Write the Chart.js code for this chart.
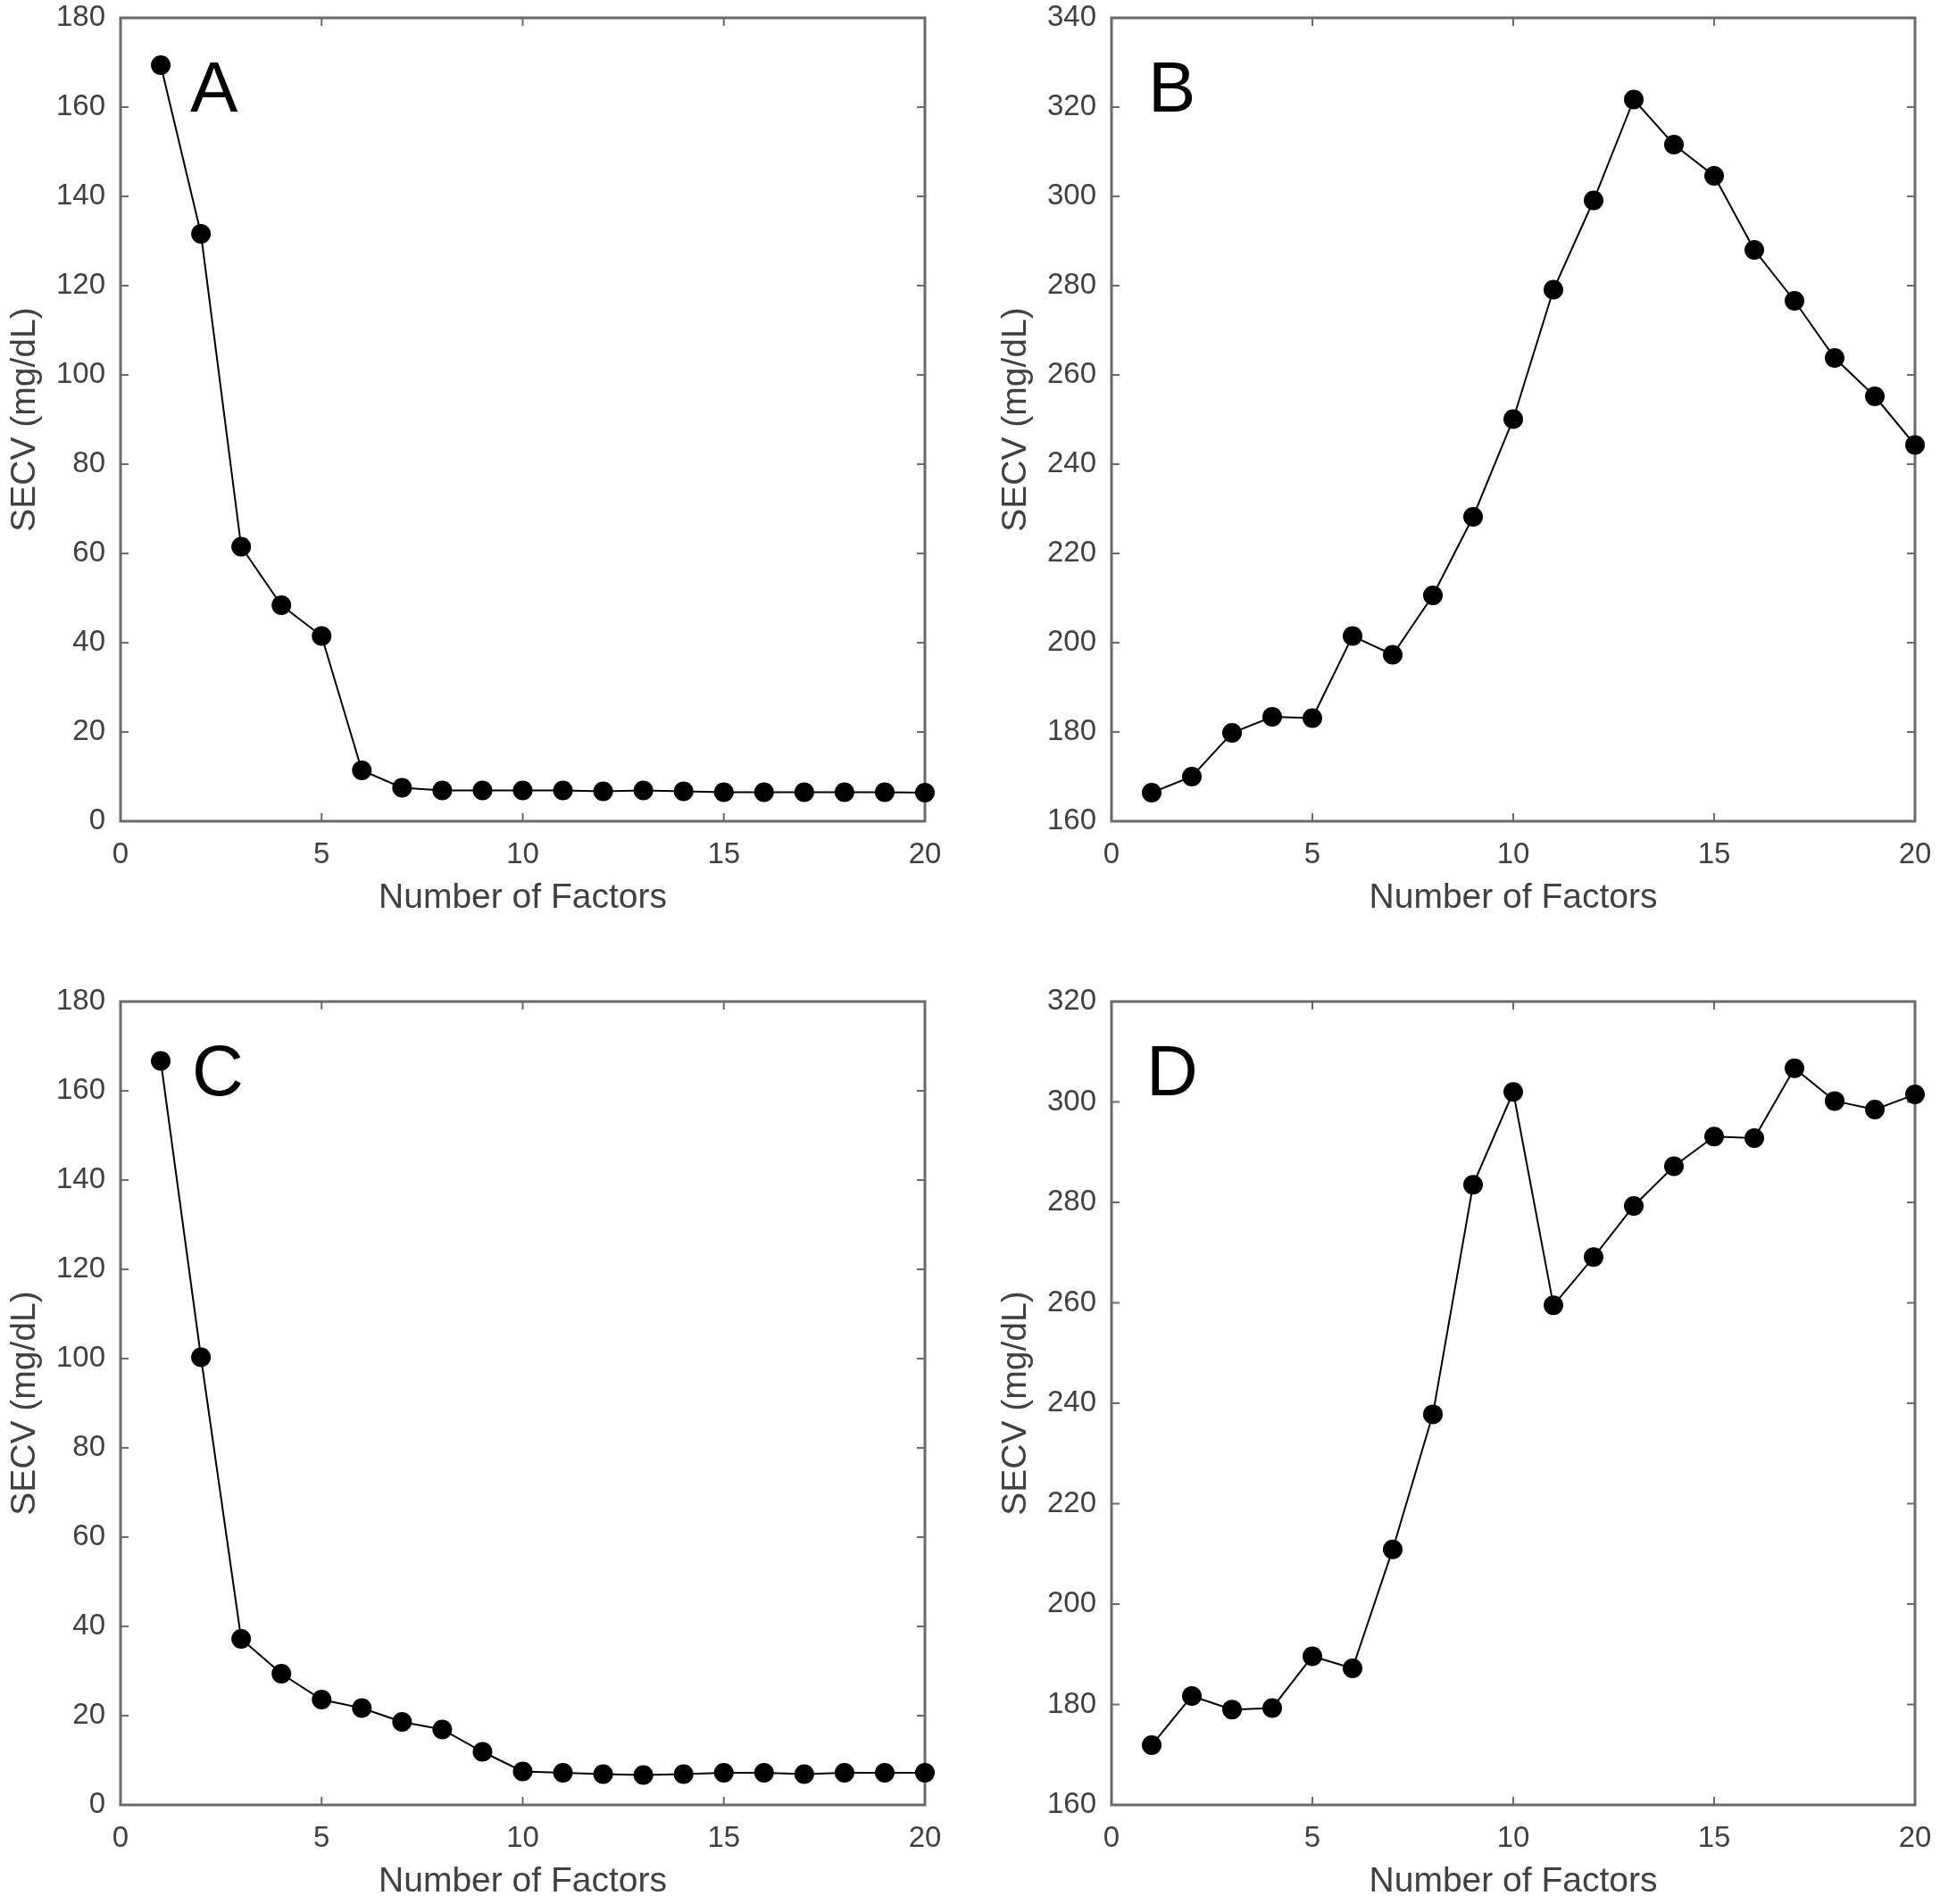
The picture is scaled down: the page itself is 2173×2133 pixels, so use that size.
<!DOCTYPE html>
<html>
<head>
<meta charset="utf-8">
<script src="https://cdn.jsdelivr.net/npm/chart.js@4.4.1/dist/chart.umd.min.js"></script>
<style>
    html, body { margin: 0; padding: 0; background: #fff; overflow: hidden; }
    canvas { position: absolute; }
</style>
</head>
<body>
<canvas id="panelA" width="1090" height="1031" style="left:0px;top:0px"></canvas>
<canvas id="panelB" width="1063" height="1031" style="left:1110px;top:0px"></canvas>
<canvas id="panelC" width="1090" height="1031" style="left:0px;top:1102px"></canvas>
<canvas id="panelD" width="1063" height="1031" style="left:1110px;top:1102px"></canvas>
<script>
// number of factors (x) and SECV values (mg/dL)
const factors = [1, 2, 3, 4, 5, 6, 7, 8, 9, 10, 11, 12, 13, 14, 15, 16, 17, 18, 19, 20];
const secvA = [169.4, 131.6, 61.5, 48.4, 41.5, 11.4, 7.5, 6.9, 6.9, 6.9, 6.9, 6.7, 6.9, 6.7, 6.5, 6.5, 6.5, 6.5, 6.5, 6.4];
const secvB = [166.4, 170.0, 179.8, 183.4, 183.1, 201.5, 197.3, 210.6, 228.2, 250.1, 279.1, 299.1, 321.7, 311.6, 304.6, 288.0, 276.6, 263.8, 255.2, 244.3];
const secvC = [166.7, 100.3, 37.2, 29.4, 23.6, 21.7, 18.6, 16.9, 11.9, 7.5, 7.2, 6.9, 6.7, 6.9, 7.2, 7.2, 6.9, 7.2, 7.2, 7.2];
const secvD = [171.9, 181.7, 179.0, 179.3, 189.6, 187.2, 210.9, 237.8, 283.5, 302.0, 259.5, 269.1, 279.3, 287.2, 293.1, 292.8, 306.7, 300.2, 298.5, 301.5];

// axis ranges / tick steps
const xRange = [0, 20];
const xStep = 5;
const yRangeA = [0, 180];
const yRangeB = [160, 340];
const yRangeC = [0, 180];
const yRangeD = [160, 320];
const yStep = 20;

const xTitle = 'Number of Factors';
const yTitle = 'SECV (mg/dL)';

const boxColor = '#6a6a6a';
const textColor = '#404040';
const fontFamily = "'Liberation Sans', Arial, sans-serif";

// box around the plot, inward ticks on all four sides, panel letter
const framePlugin = {
    id: 'frame',
    beforeDatasetsDraw(chart, args, opts) {
        const ctx = chart.ctx;
        const a = chart.chartArea;
        const x = chart.scales.x;
        const y = chart.scales.y;
        const len = 9;
        ctx.save();
        ctx.strokeStyle = boxColor;
        ctx.lineWidth = 2;
        ctx.beginPath();
        x.ticks.forEach(t => {
            const px = x.getPixelForValue(t.value);
            ctx.moveTo(px, a.bottom);
            ctx.lineTo(px, a.bottom - len);
            ctx.moveTo(px, a.top);
            ctx.lineTo(px, a.top + len);
        });
        y.ticks.forEach(t => {
            const py = y.getPixelForValue(t.value);
            ctx.moveTo(a.left, py);
            ctx.lineTo(a.left + len, py);
            ctx.moveTo(a.right, py);
            ctx.lineTo(a.right - len, py);
        });
        ctx.stroke();
        ctx.lineWidth = 3;
        ctx.strokeRect(a.left, a.top, a.right - a.left, a.bottom - a.top);

        ctx.fillStyle = '#000';
        ctx.font = '80px ' + fontFamily;
        ctx.textBaseline = 'alphabetic';
        ctx.textAlign = 'left';
        ctx.fillText(opts.letter, a.left + opts.dx, a.top + 105);
        ctx.restore();
    }
};

function makePanel(id, values, yRange, letter, dx) {
    const ctx = document.getElementById(id).getContext('2d');
    return new Chart(ctx, {
        type: 'line',
        data: {
            datasets: [{
                data: factors.map((f, i) => ({ x: f, y: values[i] })),
                borderColor: '#000',
                borderWidth: 2,
                backgroundColor: '#000',
                pointBackgroundColor: '#000',
                pointBorderWidth: 0,
                pointRadius: 11,
                tension: 0,
                clip: false,
            }],
        },
        options: {
            responsive: false,
            animation: false,
            devicePixelRatio: 1,
            layout: {
                padding: { left: 0, top: 20, right: ctx.canvas.width - (id === 'panelA' || id === 'panelC' ? 1036 : 1035), bottom: 1 },
            },
            plugins: {
                legend: { display: false },
                tooltip: { enabled: false },
                frame: { letter: letter, dx: dx },
            },
            scales: {
                x: {
                    type: 'linear',
                    min: xRange[0],
                    max: xRange[1],
                    ticks: {
                        stepSize: xStep,
                        padding: 18,
                        color: textColor,
                        font: { size: 33, family: fontFamily },
                        maxRotation: 0,
                    },
                    grid: { display: true, drawOnChartArea: false, drawTicks: false, color: 'transparent' },
                    border: { display: false },
                    title: {
                        display: true,
                        text: xTitle,
                        color: textColor,
                        font: { size: 39, family: fontFamily },
                        padding: 0,
                    },
                    afterFit(scale) {
                        scale.height = 110;
                        scale.paddingLeft = 0;
                        scale.paddingRight = 0;
                    },
                },
                y: {
                    type: 'linear',
                    min: yRange[0],
                    max: yRange[1],
                    ticks: {
                        stepSize: yStep,
                        padding: 17,
                        color: textColor,
                        font: { size: 33, family: fontFamily },
                    },
                    grid: { display: true, drawOnChartArea: false, drawTicks: false, color: 'transparent' },
                    border: { display: false },
                    title: {
                        display: true,
                        text: yTitle,
                        color: textColor,
                        font: { size: 39, family: fontFamily },
                        padding: { top: 5, bottom: 0 },
                    },
                    afterFit(scale) {
                        scale.width = 135;
                        scale.paddingTop = 0;
                        scale.paddingBottom = 0;
                    },
                },
            },
        },
        plugins: [framePlugin],
    });
}

makePanel('panelA', secvA, yRangeA, 'A', 78);
makePanel('panelB', secvB, yRangeB, 'B', 41);
makePanel('panelC', secvC, yRangeC, 'C', 80);
makePanel('panelD', secvD, yRangeD, 'D', 39);
</script>
</body>
</html>
